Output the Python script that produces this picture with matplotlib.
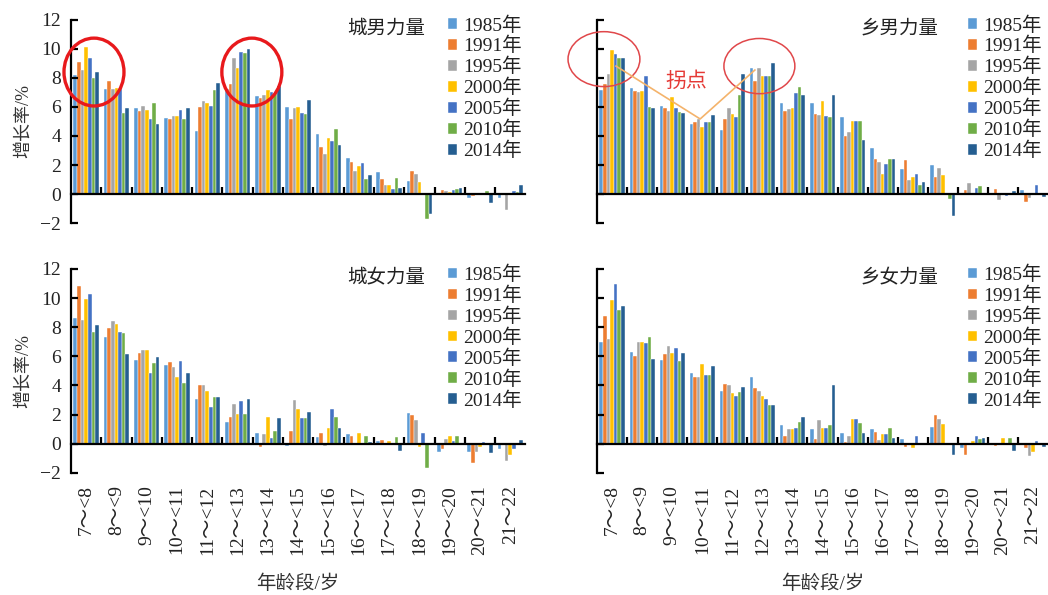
import numpy as np
import matplotlib
matplotlib.use('Agg')
import matplotlib.pyplot as plt
from matplotlib.patches import Ellipse

plt.rcParams['font.family'] = ['Liberation Serif', 'Noto Sans CJK SC']
plt.rcParams['axes.unicode_minus'] = True

years = ['1985年', '1991年', '1995年', '2000年', '2005年', '2010年', '2014年']
colors = ['#5B9BD5', '#ED7D31', '#A5A5A5', '#FFC000', '#4472C4', '#70AD47', '#255E91']
ages = ['7～<8', '8～<9', '9～<10', '10～<11', '11～<12', '12～<13', '13～<14', '14～<15',
        '15～<16', '16～<17', '17～<18', '18～<19', '19～<20', '20～<21', '21～22']

# growth rate (%), one row per age group, columns in the order of `years`
urban_male = [
    [8.2, 9.1, 8.55, 10.1, 9.35, 8.0, 8.4],
    [7.2, 7.75, 7.25, 7.3, 7.2, 5.6, 5.95],
    [5.9, 5.75, 6.05, 5.8, 5.15, 6.3, 4.85],
    [5.25, 5.15, 5.35, 5.4, 5.8, 5.15, 5.95],
    [4.35, 6.0, 6.4, 6.25, 6.05, 7.15, 7.65],
    [7.2, 7.6, 9.35, 8.65, 9.8, 9.7, 10.0],
    [6.75, 6.6, 6.8, 7.15, 7.0, 6.9, 7.45],
    [6.0, 5.15, 5.9, 6.0, 5.55, 5.5, 6.5],
    [4.15, 3.25, 2.75, 3.85, 3.65, 4.45, 3.4],
    [2.5, 2.2, 1.6, 1.9, 2.15, 1.05, 1.3],
    [1.5, 1.05, 0.65, 0.65, 0.35, 1.1, 0.45],
    [0.9, 1.6, 1.4, 0.8, 0.05, -1.75, -1.4],
    [0.05, 0.3, 0.2, 0.15, 0.25, 0.35, 0.4],
    [-0.25, -0.15, 0.0, 0.05, 0.0, 0.2, -0.6],
    [-0.25, 0.0, -1.1, 0.05, 0.2, 0.15, 0.65],
]
rural_male = [
    [7.15, 7.55, 8.25, 9.9, 9.65, 9.35, 9.35],
    [7.3, 7.1, 7.05, 7.1, 8.1, 6.0, 5.9],
    [6.05, 5.95, 5.7, 6.7, 5.95, 5.65, 5.55],
    [4.85, 4.95, 5.15, 4.6, 4.95, 4.95, 5.45],
    [4.4, 5.2, 5.9, 5.5, 5.3, 6.8, 8.3],
    [8.65, 7.75, 8.65, 8.15, 8.15, 8.1, 9.05],
    [6.25, 5.7, 5.85, 5.9, 6.95, 7.4, 6.8],
    [6.3, 5.5, 5.45, 6.4, 5.4, 5.3, 6.8],
    [5.3, 4.0, 4.3, 5.05, 5.0, 5.0, 3.7],
    [3.2, 2.4, 2.2, 1.35, 2.1, 2.4, 2.4],
    [1.7, 2.35, 1.0, 1.2, 1.4, 0.6, 0.85],
    [2.0, 1.15, 1.8, 1.3, 0.05, -0.35, -1.5],
    [0.1, 0.25, 0.75, 0.05, 0.4, 0.55, 0.05],
    [0.0, 0.35, -0.4, 0.0, -0.1, 0.1, 0.2],
    [0.25, -0.55, -0.3, 0.0, 0.65, 0.0, -0.2],
]
urban_female = [
    [8.6, 10.8, 8.5, 9.95, 10.25, 7.7, 8.15],
    [7.35, 7.95, 8.45, 8.25, 7.7, 7.6, 6.15],
    [5.75, 6.25, 6.45, 6.45, 4.85, 5.55, 5.95],
    [5.4, 5.6, 5.25, 4.6, 5.7, 4.15, 4.85],
    [3.1, 4.0, 4.0, 3.6, 2.55, 3.2, 3.2],
    [1.5, 1.85, 2.75, 2.05, 2.9, 2.05, 3.1],
    [0.75, -0.25, 0.65, 1.8, 0.4, 0.9, 1.75],
    [-0.15, 0.9, 3.0, 2.35, 1.75, 1.75, 2.2],
    [0.45, 0.75, -0.15, 1.1, 2.4, 1.8, 1.05],
    [0.65, 0.5, 0.05, 0.75, 0.05, 0.55, 0.1],
    [0.2, 0.25, 0.05, 0.15, 0.0, 0.45, -0.5],
    [2.1, 1.95, 1.65, -0.2, 0.75, -1.7, 0.0],
    [-0.55, -0.35, 0.3, 0.5, 0.2, 0.5, 0.0],
    [-0.6, -1.3, -0.55, -0.25, 0.1, 0.05, -0.65],
    [-0.35, 0.0, -1.2, -0.8, -0.35, 0.0, 0.25],
]
rural_female = [
    [7.0, 8.8, 7.2, 9.85, 10.95, 9.15, 9.45],
    [6.3, 6.0, 7.0, 7.0, 6.95, 7.35, 5.85],
    [5.75, 6.15, 6.7, 6.25, 6.55, 5.7, 6.2],
    [4.85, 4.55, 4.6, 5.5, 4.7, 4.7, 5.35],
    [3.65, 4.1, 4.0, 3.5, 3.3, 3.55, 3.9],
    [4.6, 3.8, 3.6, 3.25, 3.05, 2.65, 2.65],
    [1.25, 0.55, 1.0, 1.0, 1.1, 1.5, 1.8],
    [1.0, 0.3, 1.6, 1.1, 1.05, 1.25, 4.05],
    [0.75, 0.1, 0.55, 1.7, 1.7, 1.45, 0.75],
    [1.0, 0.8, 0.25, 0.65, 0.65, 1.1, 0.4],
    [0.3, -0.2, 0.05, -0.3, 0.55, 0.0, 0.0],
    [1.15, 1.95, 1.7, 1.35, 0.05, 0.0, -0.8],
    [-0.3, -0.8, 0.0, 0.15, 0.55, 0.3, 0.4],
    [-0.1, -0.15, 0.0, 0.4, 0.05, 0.4, -0.5],
    [0.0, -0.3, -0.85, -0.6, 0.2, 0.0, -0.25],
]

titles = ['城男力量', '乡男力量', '城女力量', '乡女力量']
panels = [urban_male, rural_male, urban_female, rural_female]

fig = plt.figure(figsize=(10.48, 5.95), dpi=100)
boxes = [[0.0677, 0.6250, 0.4337, 0.3418],
         [0.5697, 0.6250, 0.4303, 0.3418],
         [0.0677, 0.2054, 0.4337, 0.3425],
         [0.5697, 0.2054, 0.4303, 0.3425]]

x = np.arange(len(ages))
w = 0.12
txt = '#222222'
axes = []
for k in range(4):
    ax = fig.add_axes(boxes[k])
    axes.append(ax)
    vals = np.array(panels[k])
    for i in range(len(years)):
        ax.bar(x + (i - 3) * w, vals[:, i], w, color=colors[i],
               edgecolor='white', linewidth=0.3, label=years[i])
    ax.set_xlim(-0.5, 14.5)
    ax.set_ylim(-2, 12)
    ax.set_yticks(range(-2, 13, 2))
    for s in ['top', 'right']:
        ax.spines[s].set_visible(False)
    ax.spines['left'].set_linewidth(1.6)
    ax.spines['bottom'].set_linewidth(1.6)
    ax.spines['bottom'].set_position(('data', 0))
    ax.set_xticks(np.arange(0.5, 14, 1))
    ax.tick_params(axis='x', direction='in', length=5, width=1.6, labelbottom=False)
    ax.tick_params(axis='y', direction='in', length=5, width=1.6, labelsize=14,
                   labelcolor=txt, pad=7, labelleft=(k % 2 == 0))
    if k % 2 == 0:
        ax.set_ylabel('增长率/%', fontsize=13, color='#333333', labelpad=6)
    tx = 0.693 if k % 2 == 0 else 0.670
    lx = 0.8295 if k % 2 == 0 else 0.8226
    ax.text(tx, 0.955, titles[k], transform=ax.transAxes, ha='center', va='center',
            fontsize=14, color=txt)
    ax.legend(loc='upper left', bbox_to_anchor=(lx, 1.018), frameon=False, fontsize=14,
              handlelength=0.45, handleheight=0.45, handletextpad=0.35,
              labelspacing=0.13, borderpad=0, borderaxespad=0, labelcolor=txt)
    if k >= 2:
        sec = ax.secondary_xaxis('bottom')
        sec.set_xticks(x, ages, rotation=90, fontsize=14, color=txt)
        sec.tick_params(length=0, pad=9)
        sec.spines['bottom'].set_visible(False)
        sec.set_xlabel('年龄段/岁', fontsize=14, color='#333333', labelpad=14)

# annotation circles on the urban male panel
ax = axes[0]
for cx in [0.26, 5.47]:
    ax.add_patch(Ellipse((cx, 8.4), 1.98, 4.67, fill=False, edgecolor='#e8191c',
                         linewidth=2.4, clip_on=False, zorder=5))

# turning points on the rural male panel
ax = axes[1]
ax.add_patch(Ellipse((-0.27, 9.29), 2.39, 3.78, fill=False, edgecolor='#e0474a',
                     linewidth=1.1, clip_on=False, zorder=5))
ax.add_patch(Ellipse((4.90, 8.81), 2.36, 3.80, fill=False, edgecolor='#e0474a',
                     linewidth=1.1, clip_on=False, zorder=5))
ax.plot([0.13, 2.93, 4.75], [8.81, 5.17, 8.54], color='#f4b36b', linewidth=1.2, zorder=5)
ax.text(2.46, 7.71, '拐点', ha='center', va='center', fontsize=15, color='#e53935')

fig.savefig('out.png', dpi=100)
